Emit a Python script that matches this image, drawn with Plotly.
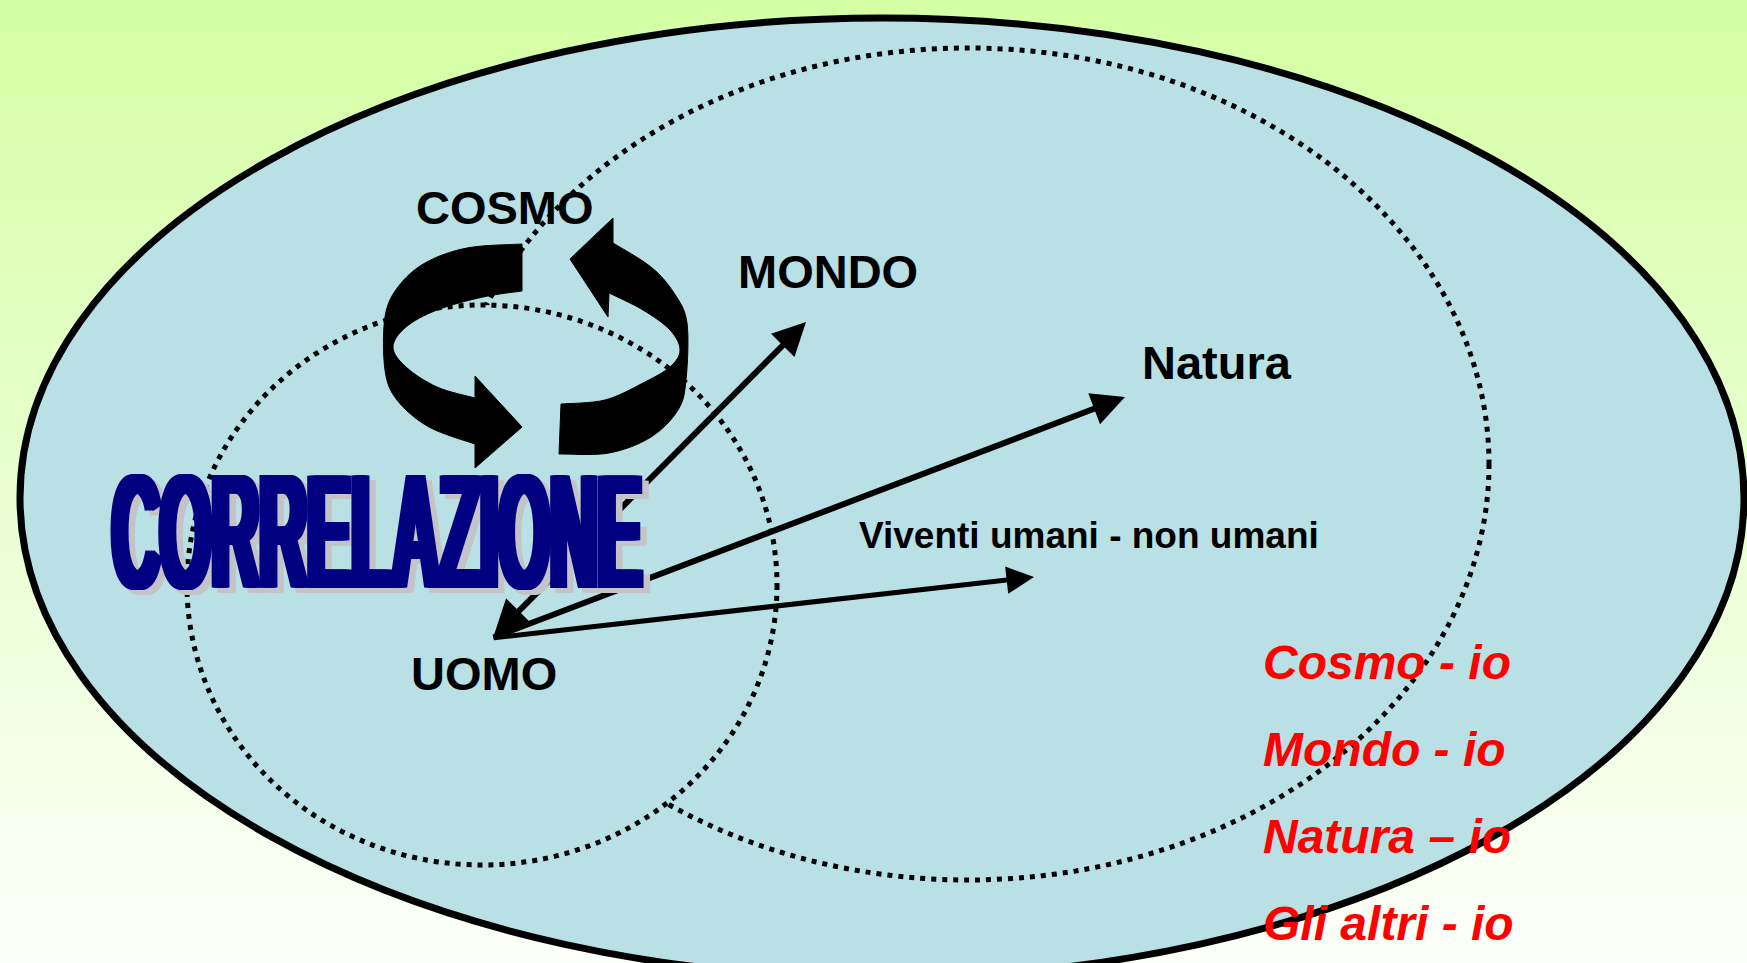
import plotly.graph_objects as go

W, H = 1747, 963

# ---------------- data / layout values ----------------
BG_TOP = (212, 255, 164)
BG_BOTTOM = (253, 255, 250)
N_BANDS = 160

FILL = "rgb(185,224,228)"
OUTER_ELLIPSE = [882, 498, 862, 480]      # cx, cy, rx, ry
BIG_DOTTED = [968, 464, 521, 416]
SMALL_DOTTED = [482, 585, 295, 280]

label_text = ["COSMO", "MONDO", "Natura", "UOMO", "Viventi umani - non umani"]
label_x = [505, 828, 1217, 484, 1089]
label_y = [207, 271, 362, 673, 535]
label_size = [47, 47, 47, 47, 37]

red_text = ["Cosmo - io", "Mondo - io", "Natura \u2013 io", "Gli altri - io"]
red_x = 1261
red_y = [662, 749, 836, 923]

uomo_point = [492, 638]
arrow_targets_x = [806, 1125, 1034]
arrow_targets_y = [322, 397, 577]
arrow_widths = [6, 6, 5]
arrow_sides = ["end+start", "end", "end"]

title_text = "CORRELAZIONE"
title_center = [377, 531]

# circular arrows (outer curve, head, inner curve)
left_outer = [(522, 244), (467, 248), (425, 263), (398, 287), (385, 317), (385, 370),
              (397, 400), (429, 427), (475, 444)]
left_head = [(475, 468), (522, 427), (475, 376)]
left_inner = [(475, 398), (437, 387), (406, 367), (393, 347), (406, 327), (437, 310),
              (483, 297), (522, 291)]
right_outer = [(559, 454), (609, 453), (651, 437), (678, 410), (686, 380), (687, 323),
               (674, 293), (651, 267), (613, 243)]
right_head = [(613, 218), (570, 259), (608, 317)]
right_inner = [(609, 293), (643, 310), (670, 330), (680, 350), (670, 367), (643, 383),
               (605, 400), (561, 404)]


def catmull(pts):
    out = ""
    n = len(pts)
    for i in range(n - 1):
        p0 = pts[i - 1] if i > 0 else pts[i]
        p1 = pts[i]
        p2 = pts[i + 1]
        p3 = pts[i + 2] if i + 2 < n else pts[i + 1]
        c1 = (p1[0] + (p2[0] - p0[0]) / 6, p1[1] + (p2[1] - p0[1]) / 6)
        c2 = (p2[0] - (p3[0] - p1[0]) / 6, p2[1] - (p3[1] - p1[1]) / 6)
        out += f" C {c1[0]:.1f},{c1[1]:.1f} {c2[0]:.1f},{c2[1]:.1f} {p2[0]},{p2[1]}"
    return out


def ring_path(outer, head, inner):
    p = f"M {outer[0][0]},{outer[0][1]}" + catmull(outer)
    for h in head:
        p += f" L {h[0]},{h[1]}"
    p += f" L {inner[0][0]},{inner[0][1]}" + catmull(inner)
    p += " Z"
    return p


shapes = []
# background gradient bands
for i in range(N_BANDS):
    t = i / (N_BANDS - 1)
    c = tuple(round(BG_TOP[k] + (BG_BOTTOM[k] - BG_TOP[k]) * t) for k in range(3))
    shapes.append(dict(type="rect", xref="paper", yref="paper",
                       x0=0, x1=1, y0=1 - (i + 1.3) / N_BANDS, y1=1 - i / N_BANDS,
                       fillcolor=f"rgb{c}", line=dict(width=0), layer="below"))


def ell(e, **kw):
    cx, cy, rx, ry = e
    d = dict(type="circle", xref="x", yref="y", x0=cx - rx, x1=cx + rx,
             y0=cy - ry, y1=cy + ry)
    d.update(kw)
    return d


shapes.append(ell(OUTER_ELLIPSE, fillcolor=FILL, line=dict(color="black", width=7)))
shapes.append(ell(BIG_DOTTED, fillcolor="rgba(0,0,0,0)",
                  line=dict(color="black", width=5, dash="5px,6px")))
shapes.append(ell(SMALL_DOTTED, fillcolor=FILL,
                  line=dict(color="black", width=5, dash="5px,6px")))
shapes.append(dict(type="path", xref="x", yref="y",
                   path=ring_path(left_outer, left_head, left_inner),
                   fillcolor="black", line=dict(color="black", width=1)))
shapes.append(dict(type="path", xref="x", yref="y",
                   path=ring_path(right_outer, right_head, right_inner),
                   fillcolor="black", line=dict(color="black", width=1)))

annotations = []
for tx, ty, w, side in zip(arrow_targets_x, arrow_targets_y, arrow_widths, arrow_sides):
    annotations.append(dict(x=tx, y=ty, ax=uomo_point[0], ay=uomo_point[1],
                            xref="x", yref="y", axref="x", ayref="y", text="",
                            showarrow=True, arrowhead=2, startarrowhead=2,
                            arrowside=side, arrowwidth=w, arrowsize=1.1,
                            startarrowsize=1.2, arrowcolor="black"))

for t, x, y, s in zip(label_text, label_x, label_y, label_size):
    annotations.append(dict(x=x, y=y, xref="x", yref="y", text=t, showarrow=False,
                            xanchor="center", yanchor="middle",
                            font=dict(family="Liberation Sans, Arial", size=s,
                                      color="black", weight="bold")))

for t, y in zip(red_text, red_y):
    annotations.append(dict(x=red_x, y=y, xref="x", yref="y", text=t, showarrow=False,
                            xanchor="left", yanchor="middle",
                            font=dict(family="Liberation Sans, Arial", size=48,
                                      color="#FF0000", weight="bold", style="italic")))

annotations.append(dict(x=title_center[0], y=title_center[1], xref="x", yref="y",
                        text=title_text, showarrow=False, xanchor="center",
                        yanchor="middle",
                        font=dict(family="Liberation Sans, Arial", size=164,
                                  color="#000080", weight="bold")))

fig = go.Figure(go.Scatter(x=[], y=[]))
fig.update_layout(
    width=W, height=H, margin=dict(l=0, r=0, t=0, b=0),
    paper_bgcolor="white", plot_bgcolor="rgba(0,0,0,0)",
    xaxis=dict(range=[0, W], visible=False, fixedrange=True),
    yaxis=dict(range=[H, 0], visible=False, fixedrange=True),
    showlegend=False, shapes=shapes, annotations=annotations,
)

post = """
document.body.style.margin='0';
document.body.style.overflow='hidden';
var gd = document.getElementById('{plot_id}');
function fixTitle(){
  var navy = [], gray = [];
  var offs = [-8,-5.5,-3,3,5.5,8];
  offs.forEach(function(o){ navy.push(o+'px 0px 0px #000080'); });
  [2,5,8,11,14,17,20].forEach(function(o){ gray.push(o+'px 4px 0px #c4c4c8'); });
  gd.querySelectorAll('text').forEach(function(t){
    if(t.textContent==='CORRELAZIONE'){
      t.style.transformBox='fill-box';
      t.style.transformOrigin='50% 50%';
      t.style.transform='scale(0.404,1)';
      t.style.textShadow = navy.concat(gray).join(', ');
    }
  });
}
fixTitle();
gd.on('plotly_afterplot', fixTitle);
"""

fig.write_html("out.html", config={"displayModeBar": False}, post_script=post)
